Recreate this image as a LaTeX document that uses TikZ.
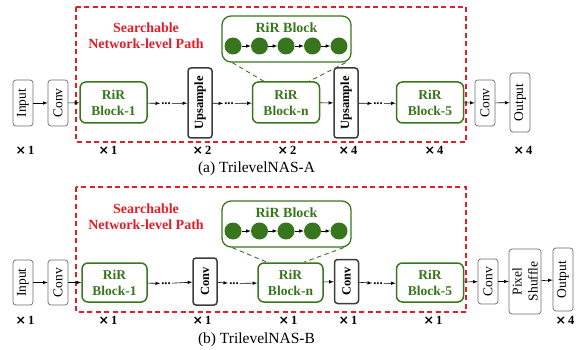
\documentclass[tikz,border=0pt]{standalone}
\usepackage{fontspec}
\setmainfont{Liberation Serif}
\newfontfamily\crossfont{DejaVu Sans}
\definecolor{rirgreen}{RGB}{56,118,29}
\definecolor{pathred}{RGB}{226,30,38}
\definecolor{boxgray}{RGB}{60,60,60}
\begin{document}
\begin{tikzpicture}[x=1pt,y=-1pt,
  io/.style={draw=gray!85!black,line width=0.7pt,rounded corners=3pt,rotate=90,inner sep=0pt,
    minimum width=46pt,minimum height=20pt,font=\fontsize{13.5}{14}\selectfont,align=center},
  upbox/.style={draw=boxgray,line width=1.5pt,rounded corners=3pt,rotate=90,inner sep=0pt,
    minimum height=24pt,font=\bfseries\fontsize{12.5}{14}\selectfont},
  rir/.style={draw=rirgreen,line width=1.5pt,rounded corners=6pt,text=rirgreen,align=center,
    minimum width=67pt,minimum height=41pt,inner sep=0pt,font=\bfseries\fontsize{13.5}{16}\selectfont},
  inset/.style={draw=rirgreen,line width=1.3pt,rounded corners=9pt,minimum width=129pt,minimum height=46pt},
  cell/.style={circle,fill=rirgreen,minimum size=17pt,inner sep=0pt},
  dots/.style={inner sep=1pt,font=\bfseries\fontsize{12.5}{12}\selectfont},
  lbl/.style={font=\bfseries\fontsize{12.5}{14}\selectfont},
  arr/.style={-latex,line width=0.6pt},
  zoomline/.style={rirgreen,line width=0.9pt,dash pattern=on 4.5pt off 3.5pt},
  searchbox/.style={pathred,line width=1.2pt,dash pattern=on 5pt off 3.5pt}]
  \useasboundingbox (0,0) rectangle (584,350);

  % (a) TrilevelNAS-A
  \draw[searchbox] (76,7) rectangle (466,142);
  \node[text=pathred,font=\bfseries\fontsize{14}{16}\selectfont,align=center] (pa) at (146,36) {Searchable\\Network-level Path};
  \node[inset] (insa) at (286.5,39) {};
  \node[text=rirgreen,font=\bfseries\fontsize{14}{14}\selectfont] (ta) at (286.5,28) {RiR Block};
  \foreach \i/\x in {1/233,2/259.5,3/286,4/312.5,5/339} \node[cell] (ca\i) at (\x,46) {};
  \foreach \a/\b in {1/2,2/3,3/4,4/5} \draw[arr] (ca\a) -- (ca\b);

  \node[io] (ina) at (23,103) {Input};
  \node[io] (cva) at (58,103) {Conv};
  \node[rir] (b1a) at (113.5,102.5) {RiR\\Block-1};
  \node[dots] (d1a) at (166,103.5) {...};
  \node[upbox,minimum width=70pt] (u1a) at (200,103) {Upsample};
  \node[dots] (d2a) at (229,103.5) {...};
  \node[rir] (bna) at (286,102.5) {RiR\\Block-n};
  \node[upbox,minimum width=70pt] (u2a) at (346,103) {Upsample};
  \node[dots] (d3a) at (378,103.5) {...};
  \node[rir] (b5a) at (430,102.5) {RiR\\Block-5};
  \node[io] (cwa) at (485,103) {Conv};
  \node[io,minimum width=59pt] (outa) at (520,102.5) {Output};

  \draw[arr] (ina) -- (cva);
  \draw[arr] (cva) -- (b1a);
  \draw[arr] (b1a) -- (d1a);
  \draw[arr] (d1a) -- (u1a);
  \draw[arr] (u1a) -- (d2a);
  \draw[arr] (d2a) -- (bna);
  \draw[arr] (bna) -- (u2a);
  \draw[arr] (u2a) -- (d3a);
  \draw[arr] (d3a) -- (b5a);
  \draw[arr] (b5a) -- (cwa);
  \draw[arr] (cwa) -- (outa);
  \draw[zoomline] ([xshift=11pt]insa.south west) -- ([xshift=12pt]bna.north west);
  \draw[zoomline] ([xshift=-6pt]insa.south east) -- ([xshift=-11pt]bna.north east);

  \foreach \x/\t in {25/1,108/1,202/2,287/2,348/4,434/4,523/4} \node[lbl] at (\x,150) {{\crossfont ×}\,\t};
  \node[font=\fontsize{15.5}{16}\selectfont] (capa) at (256.5,169) {(a) TrilevelNAS-A};

  % (b) TrilevelNAS-B
  \draw[searchbox] (76,187) rectangle (466,312);
  \node[text=pathred,font=\bfseries\fontsize{14}{16}\selectfont,align=center] (pb) at (146,216.5) {Searchable\\Network-level Path};
  \node[inset] (insb) at (286.5,224) {};
  \node[text=rirgreen,font=\bfseries\fontsize{14}{14}\selectfont] (tb) at (286.5,213) {RiR Block};
  \foreach \i/\x in {1/233,2/259.5,3/286,4/312.5,5/339} \node[cell] (cb\i) at (\x,231) {};
  \foreach \a/\b in {1/2,2/3,3/4,4/5} \draw[arr] (cb\a) -- (cb\b);

  \node[io,minimum width=45pt] (inb) at (23,282.5) {Input};
  \node[io,minimum width=45pt] (cvb) at (58,282.5) {Conv};
  \node[rir,minimum width=65pt,minimum height=39pt] (b1b) at (114.5,282.5) {RiR\\Block-1};
  \node[dots] (d1b) at (166,283.5) {...};
  \node[upbox,minimum width=47pt] (k1b) at (205,281.5) {Conv};
  \node[dots] (d2b) at (234,283.5) {...};
  \node[rir,minimum width=65pt,minimum height=39pt] (bnb) at (290.5,282.5) {RiR\\Block-n};
  \node[upbox,minimum width=44pt] (k2b) at (346.5,281.5) {Conv};
  \node[dots] (d3b) at (378,283.5) {...};
  \node[rir,minimum height=39pt] (b5b) at (430,282.5) {RiR\\Block-5};
  \node[io,minimum width=45pt] (cwb) at (488,281.5) {Conv};
  \node[io,minimum width=65pt,minimum height=32pt,font=\fontsize{13.5}{16}\selectfont] (psb) at (525,281.5) {Pixel\\Shuffle};
  \node[io,minimum width=63pt] (outb) at (563,279.5) {Output};

  \draw[arr] (inb) -- (cvb);
  \draw[arr] (cvb) -- (b1b);
  \draw[arr] (b1b) -- (d1b);
  \draw[arr] (d1b) -- (k1b);
  \draw[arr] (k1b) -- (d2b);
  \draw[arr] (d2b) -- (bnb);
  \draw[arr] (bnb) -- (k2b);
  \draw[arr] (k2b) -- (d3b);
  \draw[arr] (d3b) -- (b5b);
  \draw[arr] (b5b) -- (cwb);
  \draw[arr] (cwb) -- (psb);
  \draw[arr] (psb) -- (outb);
  \draw[zoomline] ([xshift=11pt]insb.south west) -- ([xshift=10pt]bnb.north west);
  \draw[zoomline] ([xshift=-8pt]insb.south east) -- ([xshift=-20pt]bnb.north east);

  \foreach \x/\t in {25/1,108/1,202/1,288/1,348/1,433/1,565/4} \node[lbl] at (\x,320) {{\crossfont ×}\,\t};
  \node[font=\fontsize{15.5}{16}\selectfont] (capb) at (256.5,340) {(b) TrilevelNAS-B};
\end{tikzpicture}
\end{document}
